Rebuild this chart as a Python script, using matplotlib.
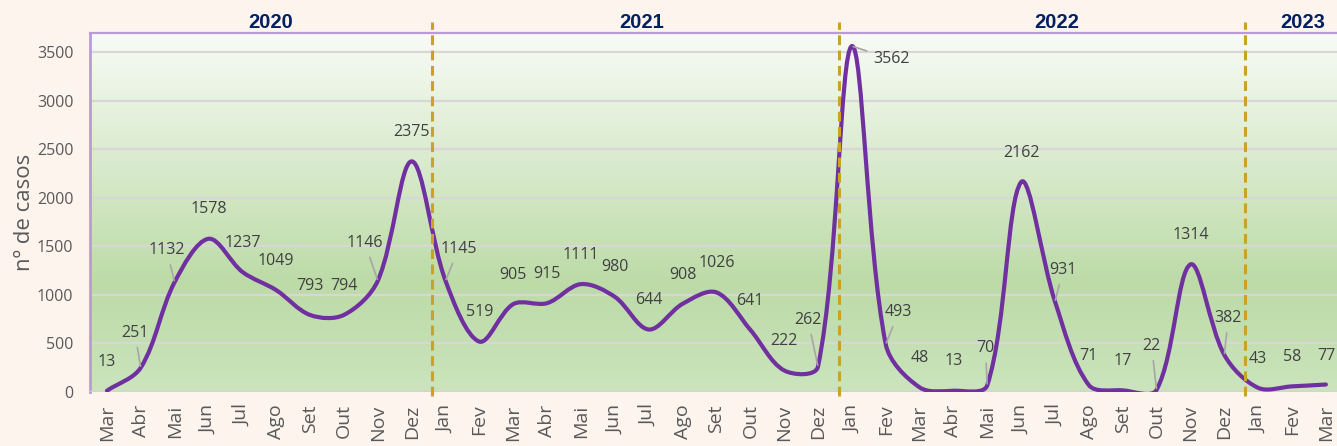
import matplotlib
matplotlib.use("Agg")
import matplotlib.pyplot as plt
import numpy as np
from matplotlib.path import Path
from matplotlib.patches import PathPatch
from matplotlib.colors import LinearSegmentedColormap

# monthly cases, Mar 2020 -> Mar 2023
months = ["Mar", "Abr", "Mai", "Jun", "Jul", "Ago", "Set", "Out", "Nov", "Dez",
          "Jan", "Fev", "Mar", "Abr", "Mai", "Jun", "Jul", "Ago", "Set", "Out", "Nov", "Dez",
          "Jan", "Fev", "Mar", "Abr", "Mai", "Jun", "Jul", "Ago", "Set", "Out", "Nov", "Dez",
          "Jan", "Fev", "Mar"]
cases = [13, 251, 1132, 1578, 1237, 1049, 793, 794, 1146, 2375,
         1145, 519, 905, 915, 1111, 980, 644, 908, 1026, 641, 222, 262,
         3562, 493, 48, 13, 70, 2162, 931, 71, 17, 22, 1314, 382,
         43, 58, 77]
years = ["2020", "2021", "2022", "2023"]
year_label_x = [4.84, 15.8, 28.06, 35.3]
year_breaks = [9.6, 21.63, 33.6]

# label offsets in pixels (dx, dy) and which get a leader line
label_offsets = {1: (-6, 35), 2: (-8, 32), 3: (0, 30), 8: (-13, 38), 10: (13, 32),
                 11: (0, 30), 15: (0, 30), 21: (-10, 47), 22: (40, -13), 23: (13, 32),
                 25: (0, 30), 26: (-2, 37), 28: (8, 32), 31: (-5, 44), 33: (4, 37)}
leaders = [1, 2, 8, 10, 21, 22, 23, 26, 28, 31, 33]

fig = plt.figure(figsize=(13.37, 4.46), dpi=100)
fig.patch.set_facecolor("#FDF4EE")
ax = fig.add_axes([90 / 1337, (446 - 392) / 446, 37 * 33.86 / 1337, 359 / 446])

ymax = 3697
ax.set_xlim(-0.5, 36.5)
ax.set_ylim(0, ymax)

# gradient plot area
cmap = LinearSegmentedColormap.from_list(
    "bg", [(0.0, "#CBE4BD"), (0.3, "#BCDBA7"), (1.0, "#F8FBF6")])
grad = np.linspace(0, 1, 256).reshape(-1, 1)
ax.imshow(grad, cmap=cmap, aspect="auto", origin="lower",
          extent=[-0.5, 36.5, 0, ymax], zorder=0)

for v in range(500, 3501, 500):
    ax.axhline(v, color="#D9D6D6", lw=1.6, zorder=1)

# smoothed line, excel-like bezier (tangents scaled by segment lengths on screen)
x = np.arange(len(cases), dtype=float)
y = np.array(cases, dtype=float)
sx, sy = 33.86, 359 / ymax  # px per data unit


def dist(a, b):
    return np.hypot((x[b] - x[a]) * sx, (y[b] - y[a]) * sy)


verts = [(x[0], y[0])]
codes = [Path.MOVETO]
n = len(x)
f = 1 / 3
for i in range(n - 1):
    i0 = max(i - 1, 0)
    i3 = min(i + 2, n - 1)
    d01, d12, d23 = dist(i0, i), dist(i, i + 1), dist(i + 1, i3)
    f1 = f * d12 / (d01 + d12)
    f2 = f * d12 / (d12 + d23)
    c1 = (x[i] + f1 * (x[i + 1] - x[i0]), y[i] + f1 * (y[i + 1] - y[i0]))
    c2 = (x[i + 1] - f2 * (x[i3] - x[i]), y[i + 1] - f2 * (y[i3] - y[i]))
    verts += [c1, c2, (x[i + 1], y[i + 1])]
    codes += [Path.CURVE4] * 3
ax.add_patch(PathPatch(Path(verts, codes), facecolor="none", edgecolor="#7030A0",
                       lw=3.0, zorder=4, capstyle="round", joinstyle="round"))

# year breaks
for xb in year_breaks:
    ax.plot([xb, xb], [-0.01, 1.03], color="#C9A227", lw=2.2, ls=(0, (3.2, 1.8)),
            transform=ax.get_xaxis_transform(), clip_on=False, zorder=5)

for lbl, xl in zip(years, year_label_x):
    ax.text(xl, 1.03, lbl, transform=ax.get_xaxis_transform(), ha="center", va="center",
            fontsize=14.5, fontweight="bold", color="#002060", family="Liberation Sans")

# data labels
for i, v in enumerate(cases):
    dx, dy = label_offsets.get(i, (0, 29))
    props = None
    if i in leaders:
        props = dict(arrowstyle="-", color="#A6A6A6", lw=1.2, shrinkA=3, shrinkB=1)
    ax.annotate(str(v), xy=(i, v), xytext=(dx, dy), textcoords="offset pixels",
                ha="center", va="center", fontsize=11.5, color="#404040",
                family="Open Sans", arrowprops=props, zorder=6)

# axes styling
for s in ["right", "bottom"]:
    ax.spines[s].set_visible(False)
ax.spines["left"].set_color("#B99BD8")
ax.spines["left"].set_linewidth(2)
ax.spines["top"].set_color("#B99BD8")
ax.spines["top"].set_linewidth(1.6)
ax.axhline(0, color="#D9CFD6", lw=1.6, zorder=3)

ax.set_yticks(range(0, 3501, 500))
ax.set_yticklabels([str(v) for v in range(0, 3501, 500)], family="Open Sans",
                   fontsize=11.5, color="#595959")
ax.set_xticks(x)
ax.set_xticklabels(months, rotation=90, family="Open Sans", fontsize=14, color="#595959")
ax.tick_params(axis="both", length=0)
ax.tick_params(axis="x", pad=9)
ax.tick_params(axis="y", pad=12)
ax.set_ylabel("nº de casos", family="Open Sans", fontsize=16, color="#595959", labelpad=1)

fig.savefig("out.png", dpi=100, facecolor=fig.get_facecolor())
